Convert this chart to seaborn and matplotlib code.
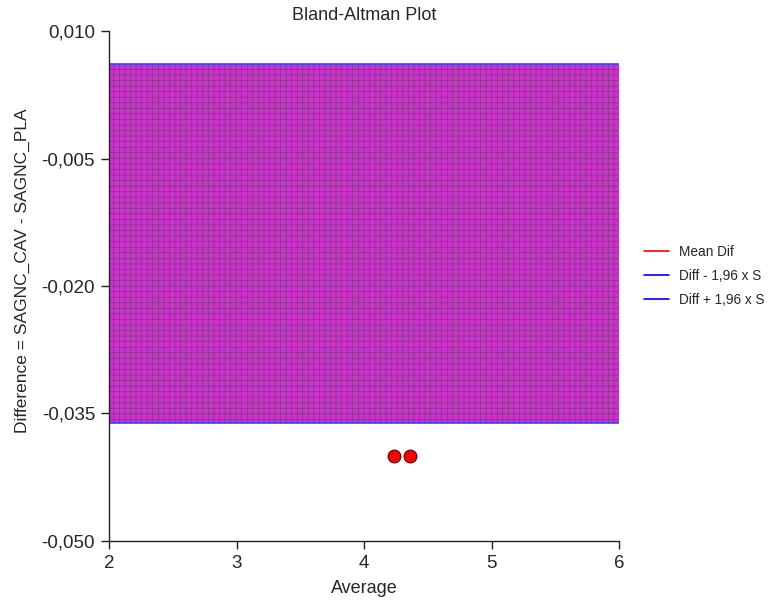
import numpy as np
import pandas as pd
import seaborn as sns
import matplotlib.pyplot as plt
from matplotlib.ticker import FuncFormatter

# Valeurs
average = [4.235, 4.36]
difference = [-0.0400, -0.0400]
limit_lower = -0.0361
limit_upper = 0.0061
x_band = [2.0, 6.0]

df = pd.DataFrame({"Average": average, "Difference": difference})

sns.set_style("ticks")
plt.rcParams["font.family"] = ["Liberation Sans", "DejaVu Sans"]
plt.rcParams["hatch.linewidth"] = 0.5

fig = plt.figure(figsize=(7.71, 6.10), dpi=100)
ax = fig.add_axes([109 / 771, 1 - 541 / 610, 510 / 771, 510 / 610])

# bande entre les limites d'accord
ax.fill_between(x_band, [limit_lower] * 2, [limit_upper] * 2,
                facecolor="#cc33cc", edgecolor=(0.25, 0.25, 0.25, 0.55), hatch="+++",
                linewidth=0, zorder=1)
ax.plot(x_band, [limit_lower] * 2, color="#3344ff", lw=1.2, zorder=2)
ax.plot(x_band, [limit_upper] * 2, color="#3344ff", lw=1.2, zorder=2)

sns.scatterplot(data=df, x="Average", y="Difference", ax=ax, s=85,
                color="red", edgecolor="#550000", linewidth=0.8, zorder=3)

# légende (lignes seulement)
ax.plot([], [], color="red", lw=1.2, label="Mean Dif")
ax.plot([], [], color="blue", lw=1.2, label="Diff - 1,96 x S")
ax.plot([], [], color="blue", lw=1.2, label="Diff + 1,96 x S")
ax.legend(loc="center left", bbox_to_anchor=(1.025, 0.52), frameon=False,
          fontsize=9.8, handlelength=1.8, labelspacing=0.75)

ax.set_xlim(2, 6)
ax.set_ylim(-0.05, 0.01)
ax.set_xticks([2, 3, 4, 5, 6])
ax.set_yticks([-0.05, -0.035, -0.02, -0.005, 0.01])
ax.yaxis.set_major_formatter(FuncFormatter(lambda v, p: f"{v:.3f}".replace(".", ",").replace("-0,000", "0,000")))
ax.tick_params(labelsize=13.5, length=6, width=1, color="#222222", pad=4)
for s in ["left", "bottom"]:
    ax.spines[s].set_color("#222222")
    ax.spines[s].set_linewidth(1)
sns.despine(ax=ax)

ax.set_xlabel("Average", fontsize=13, labelpad=6)
ax.set_ylabel("Difference = SAGNC_CAV - SAGNC_PLA", fontsize=12.5)
ax.yaxis.set_label_coords(-0.154, 0.53)
ax.set_title("Bland-Altman Plot", fontsize=13, pad=8)

fig.savefig("out.png", dpi=100)
